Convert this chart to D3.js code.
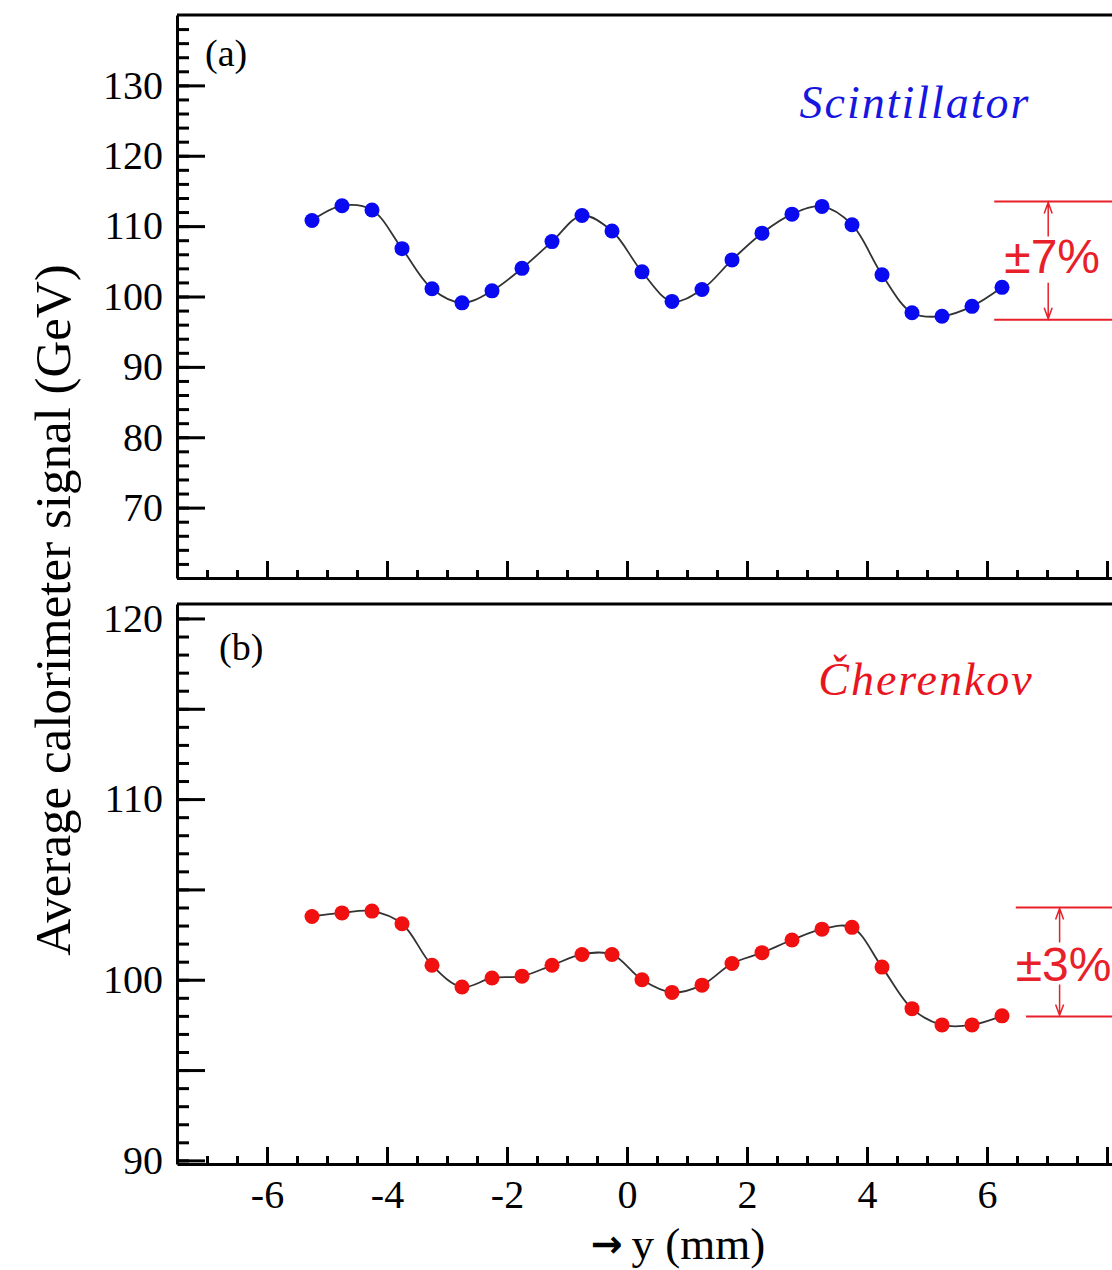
<!DOCTYPE html>
<html lang="en">
<head>
    <meta charset="utf-8"/>
    <title>Calorimeter signal vs y</title>
    <script src="https://d3js.org/d3.v7.min.js"></script>
    <style>
        body { margin: 0; background: #fff; }
        svg text { font-family: "Liberation Serif", "Times New Roman", serif; }
    </style>
</head>
<body>
<script>

    // impact point y (mm), one value every 0.5 mm
    var yPos = [-5.25, -4.75, -4.25, -3.75, -3.25, -2.75, -2.25, -1.75, -1.25, -0.75, -0.25, 0.25,
                0.75, 1.25, 1.75, 2.25, 2.75, 3.25, 3.75, 4.25, 4.75, 5.25, 5.75, 6.25];

    // (a) scintillator signal (GeV)
    var scintSignal = [110.8, 112.9, 112.3, 106.8, 101.1, 99.1, 100.8, 104.0, 107.8, 111.5, 109.3, 103.5,
                       99.3, 101.0, 105.2, 109.0, 111.7, 112.8, 110.2, 103.1, 97.7, 97.2, 98.6, 101.3];

    // (b) cherenkov signal (GeV)
    var cherSignal = [103.5, 103.7, 103.8, 103.1, 100.8, 99.6, 100.1, 100.2, 100.8, 101.4, 101.4, 100.0,
                      99.3, 99.7, 100.9, 101.5, 102.2, 102.8, 102.9, 100.7, 98.4, 97.5, 97.5, 98.0];

    var xTicks = [-6, -4, -2, 0, 2, 4, 6, 8];
    var xTickLabels = [-6, -4, -2, 0, 2, 4, 6];
    var scintTickLabels = [70, 80, 90, 100, 110, 120, 130];
    var cherTickLabels = [90, 100, 110, 120];
    var cherMidTicks = [95, 105, 115];

    // spread bands: [low, high]
    var scintBand = [96.7, 113.5];
    var cherBand = [97.97, 104.0];

    var width = 1112;
    var height = 1270;

    var svg = d3.select("body")
                .append("svg")
                .attr("width", width)
                .attr("height", height);

    var x = d3.scaleLinear().domain([-7.5, 8.5]).range([177, 1137]);

    var yA = d3.scaleLinear().domain([60, 140]).range([578, 15]);
    var yB = d3.scaleLinear().domain([89.8, 120.8]).range([1164, 604]);

    var line = function(yScale){
        return d3.line()
                 .x(function(d){ return x(d[0]); })
                 .y(function(d){ return yScale(d[1]); })
                 .curve(d3.curveCatmullRom.alpha(0.5));
    };

    function styleAxis(g){
        g.selectAll("path").attr("stroke", "#000").attr("stroke-width", 3);
        g.selectAll("line").attr("stroke", "#000").attr("stroke-width", 3);
        g.selectAll("text").attr("fill", "#000").style("font-size", "40px")
         .style("font-family", "'Liberation Serif', serif");
    }

    function panel(yScale, majorY, midY, minorStep, values, color, showXLabels){
        var x0 = x.range()[0];
        var yBottom = yScale.range()[0];
        var yTop = yScale.range()[1];
        var dom = yScale.domain();

        // frame top
        svg.append("line")
           .attr("x1", x0).attr("x2", width + 10)
           .attr("y1", yTop).attr("y2", yTop)
           .attr("stroke", "#000").attr("stroke-width", 3);

        // y minor ticks
        var minor = d3.range(Math.ceil(dom[0] / minorStep) * minorStep, dom[1], minorStep);
        svg.append("g")
           .attr("transform", "translate(" + x0 + ",0)")
           .call(d3.axisLeft(yScale).tickValues(minor).tickSize(-12).tickFormat(""))
           .call(styleAxis)
           .call(function(g){ g.select(".domain").remove(); });

        if (midY) {
            svg.append("g")
               .attr("transform", "translate(" + x0 + ",0)")
               .call(d3.axisLeft(yScale).tickValues(midY).tickSize(-28).tickFormat(""))
               .call(styleAxis)
               .call(function(g){ g.select(".domain").remove(); });
        }

        // y major ticks with labels
        svg.append("g")
           .attr("transform", "translate(" + x0 + ",0)")
           .call(d3.axisLeft(yScale).tickValues(majorY).tickSize(-28).tickSizeOuter(0)
                   .tickPadding(14).tickFormat(d3.format("d")))
           .call(styleAxis);

        // x minor ticks
        svg.append("g")
           .attr("transform", "translate(0," + yBottom + ")")
           .call(d3.axisBottom(x).tickValues(d3.range(-7, 8.6, 0.5)).tickSize(-8).tickFormat(""))
           .call(styleAxis)
           .call(function(g){ g.select(".domain").remove(); });

        // x major ticks
        svg.append("g")
           .attr("transform", "translate(0," + yBottom + ")")
           .call(d3.axisBottom(x).tickValues(xTicks).tickSize(-17).tickSizeOuter(0)
                   .tickPadding(16)
                   .tickFormat(function(d){
                       return showXLabels && xTickLabels.indexOf(d) >= 0 ? String(d) : "";
                   }))
           .call(styleAxis);

        var pts = yPos.map(function(v, i){ return [v, values[i]]; });

        svg.append("path")
           .datum(pts)
           .attr("d", line(yScale))
           .attr("fill", "none")
           .attr("stroke", "#333")
           .attr("stroke-width", 1.8);

        svg.append("g")
           .selectAll("circle")
           .data(pts)
           .enter()
           .append("circle")
           .attr("cx", function(d){ return x(d[0]); })
           .attr("cy", function(d){ return yScale(d[1]); })
           .attr("r", 7.5)
           .attr("fill", color);
    }

    panel(yA, scintTickLabels, null, 2, scintSignal, "#0a0af0", false);
    panel(yB, cherTickLabels, cherMidTicks, 1, cherSignal, "#f01010", true);

    // spread annotation
    function band(yScale, b, lineStarts, arrowX, label, gapTop, gapBottom, textY){
        var red = "#e8202a";
        var yHi = yScale(b[1]), yLo = yScale(b[0]);
        svg.append("line")
           .attr("x1", x(lineStarts[0])).attr("x2", width + 10)
           .attr("y1", yHi).attr("y2", yHi)
           .attr("stroke", red).attr("stroke-width", 2);
        svg.append("line")
           .attr("x1", x(lineStarts[1])).attr("x2", width + 10)
           .attr("y1", yLo).attr("y2", yLo)
           .attr("stroke", red).attr("stroke-width", 2);

        var ax = x(arrowX);
        svg.append("path")
           .attr("d", "M" + ax + "," + (yHi + gapTop) + "V" + (yHi + 1)
                 + "M" + (ax - 4) + "," + (yHi + 12) + "L" + ax + "," + (yHi + 1) + "L" + (ax + 4) + "," + (yHi + 12)
                 + "M" + ax + "," + (yLo - gapBottom) + "V" + (yLo - 1)
                 + "M" + (ax - 4) + "," + (yLo - 12) + "L" + ax + "," + (yLo - 1) + "L" + (ax + 4) + "," + (yLo - 12))
           .attr("fill", "none")
           .attr("stroke", red)
           .attr("stroke-width", 1.5);

        svg.append("text")
           .attr("x", ax + 4)
           .attr("y", textY)
           .attr("text-anchor", "middle")
           .attr("fill", red)
           .style("font-family", "'Liberation Sans', Arial, sans-serif")
           .style("font-size", "48px")
           .text(label);
    }

    band(yA, scintBand, [6.12, 6.12], 7.02, "\u00b17%", 35, 37, 273);
    band(yB, cherBand, [6.48, 6.65], 7.21, "\u00b13%", 35, 32, 981);

    // panel labels
    svg.append("text").attr("x", 205).attr("y", 66)
       .style("font-size", "38px").text("(a)");
    svg.append("text").attr("x", 219).attr("y", 660)
       .style("font-size", "38px").text("(b)");

    svg.append("text").attr("x", 915).attr("y", 118)
       .attr("text-anchor", "middle")
       .attr("fill", "#1616e0")
       .style("font-style", "italic")
       .style("font-size", "46px")
       .style("letter-spacing", "2px")
       .text("Scintillator");

    svg.append("text").attr("x", 926).attr("y", 695)
       .attr("text-anchor", "middle")
       .attr("fill", "#e8141e")
       .style("font-style", "italic")
       .style("font-size", "46px")
       .style("letter-spacing", "2px")
       .text("\u010cherenkov");

    // axis titles
    svg.append("text")
       .attr("transform", "translate(70,610) rotate(-90)")
       .attr("text-anchor", "middle")
       .style("font-size", "51px")
       .text("Average calorimeter signal (GeV)");

    var xTitle = svg.append("text").attr("x", 678).attr("y", 1259)
       .attr("text-anchor", "middle")
       .style("font-size", "45px");
    xTitle.append("tspan")
       .style("font-family", "'DejaVu Sans', sans-serif")
       .style("font-weight", "bold")
       .style("font-size", "38px")
       .attr("dy", "-2")
       .text("\u2192");
    xTitle.append("tspan")
       .attr("dy", "2")
       .text("\u2009y (mm)");

</script>
</body>
</html>
